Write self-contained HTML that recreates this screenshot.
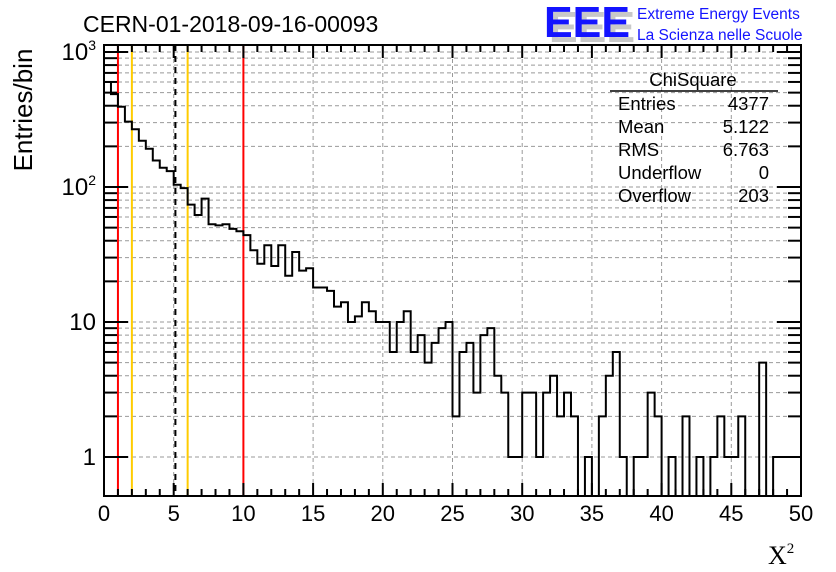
<!DOCTYPE html>
<html><head><meta charset="utf-8"><style>
body{margin:0;background:#fff}
svg{display:block;font-family:"Liberation Sans",sans-serif}
</style></head><body>
<svg id="c" width="836" height="572">
<g id="grid"></g>
<g id="lines"></g>
<path id="hist" fill="none" stroke="#000" stroke-width="2"/>
<rect x="104" y="45" width="697" height="451" fill="none" stroke="#000" stroke-width="2"/>
<g id="ticks"></g>
<text x="83" y="32" font-size="23">CERN-01-2018-09-16-00093</text>
<g>
<text x="549" y="42" font-size="44" font-weight="bold" fill="#c8c8c8" textLength="86" lengthAdjust="spacingAndGlyphs">EEE</text>
<text x="544" y="37" font-size="44" font-weight="bold" fill="#1414ff" textLength="86" lengthAdjust="spacingAndGlyphs">EEE</text>
<text x="637" y="19" font-size="15.5" fill="#1414ff">Extreme Energy Events</text>
<text x="637" y="40" font-size="15.5" fill="#1414ff">La Scienza nelle Scuole</text>
</g>
<g font-size="18.5">
<text x="693" y="86" text-anchor="middle">ChiSquare</text>
<line x1="610" y1="91" x2="778" y2="91" stroke="#000" stroke-width="1.5"/>
<text x="618" y="110">Entries</text><text x="769" y="110" text-anchor="end">4377</text>
<text x="618" y="133">Mean</text><text x="769" y="133" text-anchor="end">5.122</text>
<text x="618" y="156">RMS</text><text x="769" y="156" text-anchor="end">6.763</text>
<text x="618" y="179">Underflow</text><text x="769" y="179" text-anchor="end">0</text>
<text x="618" y="202">Overflow</text><text x="769" y="202" text-anchor="end">203</text>
</g>
<text transform="translate(32,110) rotate(-90)" font-size="26" text-anchor="middle">Entries/bin</text>
<text x="768" y="564" font-size="26" font-family="Liberation Serif,serif">X<tspan font-size="15" dy="-11">2</tspan></text>
</svg>
<script>
const counts=[600,488,393,305,268,220,192,157,139,131,104,98,74,62,82,53,52,53,49,47,44,34,27,37,26,37,22,33,24,25,18,18,17,13,14,10,11,14,12,10,10,6,10,12,6,8,5,7,9,10,2,6,7,3,8,9,4,3,1,1,3,3,1,3,4,2,3,2,0,1,0,2,4,6,1,0,1,1,3,2,0,1,0,2,0,1,0,1,2,1,1,2,0,0,5,0,1,1,1,1];
const xTicks=[0,5,10,15,20,25,30,35,40,45,50];
const yDecades=[1,10,100,1000];
const yLabels=["1","10","10<tspan font-size='14' dy='-10'>2</tspan>","10<tspan font-size='14' dy='-10'>3</tspan>"];
const markerX=[1,2,5.122,6,10];
const markerColor=["#f00","#fc0","#000","#fc0","#f00"];
const xMin=0,xMax=50,binW=0.5;
const L=104,R=801,T=45,B=496;
const X=v=>L+(v-xMin)/(xMax-xMin)*(R-L);
const Y=v=>{if(v<=0)return B;const y=457-135*Math.log10(v);return Math.min(B,Math.max(T,y));};
const NS="http://www.w3.org/2000/svg";
function mk(t,p,at){const e=document.createElementNS(NS,t);for(const k in at)e.setAttribute(k,at[k]);p.appendChild(e);return e;}
const grid=document.getElementById('grid'),ticks=document.getElementById('ticks'),lines=document.getElementById('lines');
const gs={stroke:"#999","stroke-width":1,"stroke-dasharray":"4,3"};
xTicks.forEach(v=>{if(v>xMin&&v<xMax){const g=mk('line',grid,Object.assign({x1:X(v),x2:X(v),y1:T,y2:B},gs));

}
const t=mk('text',ticks,{x:X(v),y:521,"font-size":22,"text-anchor":"middle"});t.textContent=v;

});
for(let v=xMin;v<=xMax;v+=1){const big=v%5===0,len=big?13:7;
mk('line',ticks,{x1:X(v),x2:X(v),y1:B,y2:B-len,stroke:"#000","stroke-width":2});
mk('line',ticks,{x1:X(v),x2:X(v),y1:T,y2:T+len,stroke:"#000","stroke-width":2});}
yDecades.forEach((d,i)=>{for(let m=1;m<=9;m++){const v=d*m,y=Y(v);if(y<=T||y>=B)continue;
const g=mk('line',grid,Object.assign({x1:L,x2:R,y1:y,y2:y},gs));


const len=m===1?24:13;
mk('line',ticks,{x1:L,x2:L+len,y1:y,y2:y,stroke:"#000","stroke-width":2});
mk('line',ticks,{x1:R,x2:R-len,y1:y,y2:y,stroke:"#000","stroke-width":2});}
const t=mk('text',ticks,{x:96,y:Y(d)+8,"font-size":24,"text-anchor":"end"});t.innerHTML=yLabels[i];

});
markerX.forEach((v,i)=>{const l=mk('line',lines,{x1:X(v),x2:X(v),y1:T,y2:B,stroke:markerColor[i],"stroke-width":2});
if(i===2)l.setAttribute('stroke-dasharray','6,5');

});
let d=`M${X(xMin)},${B}`;
counts.forEach((c,i)=>{const x0=X(xMin+i*binW),x1=X(xMin+(i+1)*binW),y=Y(c);d+=`L${x0},${y}L${x1},${y}`;});
d+=`L${X(xMax)},${B}`;
document.getElementById('hist').setAttribute('d',d);
</script>
</body></html>
